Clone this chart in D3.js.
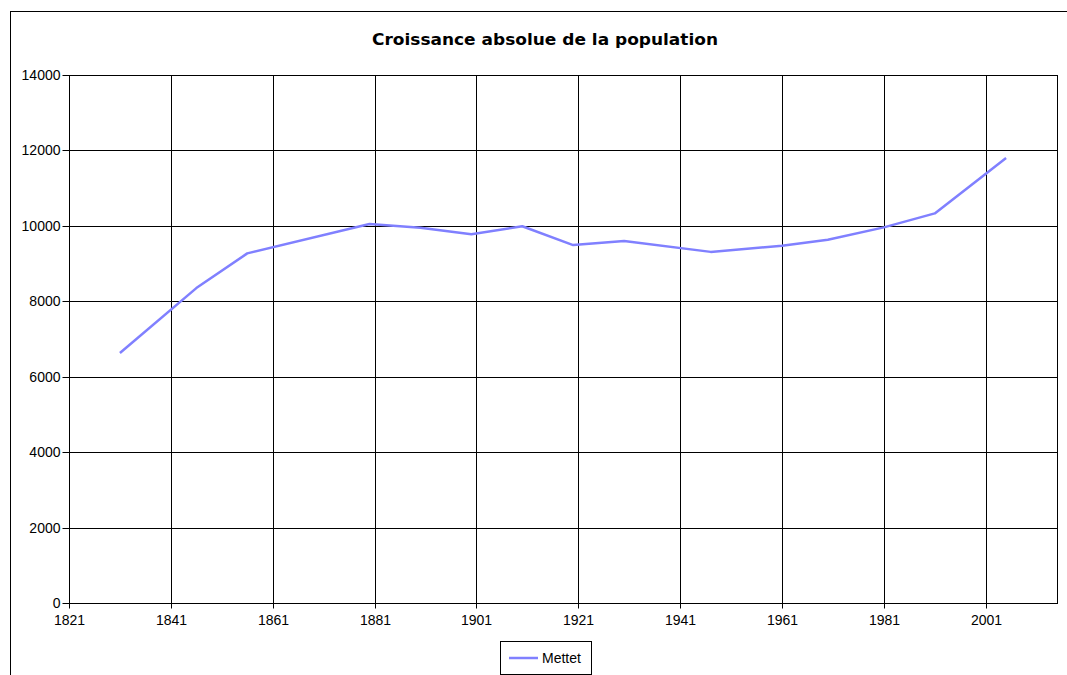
<!DOCTYPE html>
<html>
<head>
<meta charset="utf-8">
<script src="https://cdn.jsdelivr.net/npm/d3@7"></script>
<style>
  html, body { margin: 0; padding: 0; background: #fff; }
  svg { display: block; }
</style>
</head>
<body>
<svg id="chart" width="1067" height="675"></svg>
<script>
const title = "Croissance absolue de la population";
const seriesName = "Mettet";
const years = [1831, 1846, 1856, 1880, 1890, 1900, 1910, 1920, 1930, 1947, 1961, 1970, 1981, 1991, 2005];
const population = [6630, 8350, 9270, 10050, 9950, 9780, 9990, 9490, 9600, 9310, 9470, 9630, 9960, 10330, 11800];
const xTicks = [1821, 1841, 1861, 1881, 1901, 1921, 1941, 1961, 1981, 2001];
const yTicks = [0, 2000, 4000, 6000, 8000, 10000, 12000, 14000];
const xDomain = [1821, 2015];
const yDomain = [0, 14000];

(function () {
const svg = d3.select("#chart");
const pLeft = 69, pRight = 1057, pTop = 75, pBottom = 603;

const x = d3.scaleLinear().domain(xDomain).range([pLeft, pRight]);
const y = d3.scaleLinear().domain(yDomain).range([pBottom, pTop]);
const px = v => Math.round(v) + 0.5;

// outer chart border
svg.append("rect")
  .attr("x", 10.5).attr("y", 11.5)
  .attr("width", 1100).attr("height", 700)
  .attr("fill", "#fff").attr("stroke", "#000").attr("stroke-width", 1);

// title
svg.append("text")
  .attr("x", 545).attr("y", 45)
  .attr("text-anchor", "middle")
  .attr("font-family", "DejaVu Sans, Verdana, sans-serif")
  .attr("font-weight", "bold")
  .attr("font-size", 15)
  .attr("textLength", 346)
  .attr("lengthAdjust", "spacingAndGlyphs")
  .attr("fill", "#000")
  .text(title);

const g = svg.append("g");

// vertical gridlines
g.selectAll("line.vg").data(xTicks).enter().append("line")
  .attr("x1", d => px(x(d))).attr("x2", d => px(x(d)))
  .attr("y1", pTop).attr("y2", pBottom)
  .attr("stroke", "#000").attr("stroke-width", 1);

// horizontal gridlines
g.selectAll("line.hg").data(yTicks).enter().append("line")
  .attr("x1", pLeft).attr("x2", pRight)
  .attr("y1", d => px(y(d))).attr("y2", d => px(y(d)))
  .attr("stroke", "#000").attr("stroke-width", 1);

// plot right border
g.append("line")
  .attr("x1", px(pRight)).attr("x2", px(pRight))
  .attr("y1", pTop).attr("y2", pBottom + 1)
  .attr("stroke", "#000").attr("stroke-width", 1);

// axes
const yAxis = d3.axisLeft(y).tickValues(yTicks).tickSize(7).tickPadding(2).tickFormat(d3.format("d"));
const xAxis = d3.axisBottom(x).tickValues(xTicks).tickSize(5).tickPadding(7).tickFormat(d3.format("d"));

const ya = svg.append("g").attr("transform", `translate(${px(pLeft)},0.5)`).call(yAxis);
const xa = svg.append("g").attr("transform", `translate(0.5,${px(pBottom)})`).call(xAxis);
[ya, xa].forEach(a => {
  a.attr("font-size", 14).attr("font-family", "Liberation Sans, Arial, sans-serif");
  a.select(".domain").attr("stroke", "#000");
  a.selectAll(".tick line").attr("stroke", "#000");
  a.selectAll(".tick text").attr("fill", "#000");
});
ya.select(".domain").attr("d", `M0,${y(yDomain[1])}V${y(yDomain[0])}`);
xa.select(".domain").attr("d", `M${x(xDomain[0])},0H${x(xDomain[1])}`);
xa.selectAll(".tick").attr("transform", d => `translate(${Math.round(x(d))},0)`);
ya.selectAll(".tick").attr("transform", d => `translate(0,${Math.round(y(d))})`);

// series line
const line = d3.line().x((d, i) => x(years[i])).y(d => y(d));
svg.append("path")
  .datum(population)
  .attr("d", line)
  .attr("fill", "none")
  .attr("stroke", "#8080ff")
  .attr("stroke-width", 2.5)
  .attr("stroke-linejoin", "round");

// legend
const lg = svg.append("g");
lg.append("rect")
  .attr("x", 500.5).attr("y", 641.5).attr("width", 91).attr("height", 33)
  .attr("fill", "#fff").attr("stroke", "#000").attr("stroke-width", 1);
lg.append("line")
  .attr("x1", 509).attr("x2", 538).attr("y1", 658).attr("y2", 658)
  .attr("stroke", "#8080ff").attr("stroke-width", 2.5);
lg.append("text")
  .attr("x", 542).attr("y", 663)
  .attr("font-family", "Liberation Sans, Arial, sans-serif")
  .attr("font-size", 14).attr("fill", "#000")
  .text(seriesName);
})();
</script>
</body>
</html>
